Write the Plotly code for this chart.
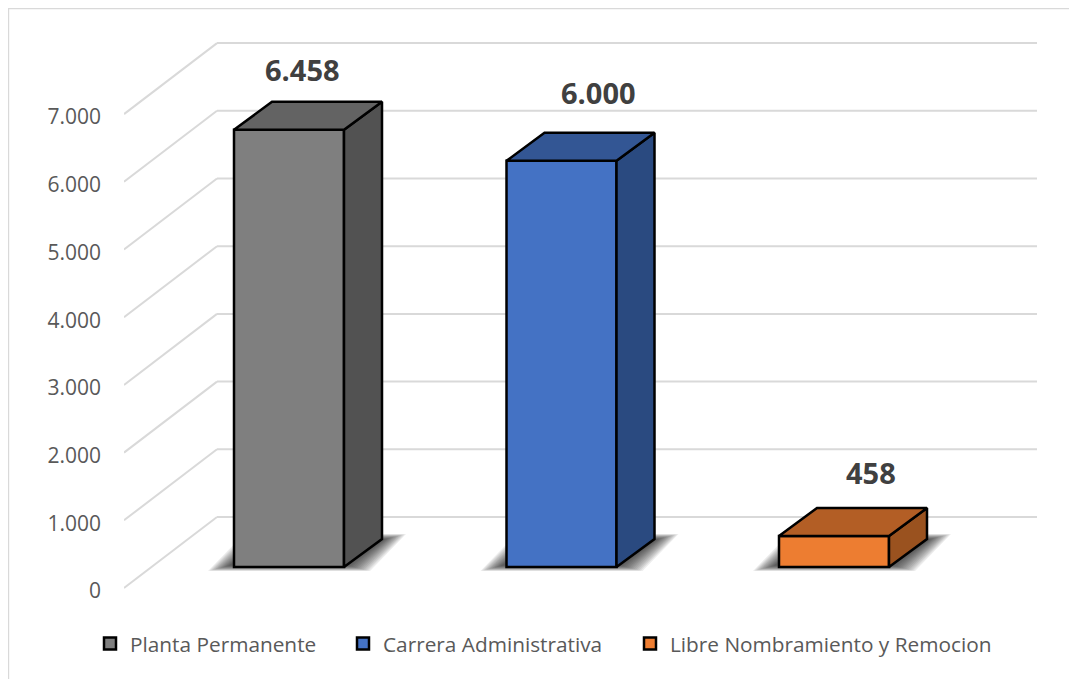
import plotly.graph_objects as go

categories = ["Planta Permanente", "Carrera Administrativa", "Libre Nombramiento y Remocion"]
values = [6458, 6000, 458]
tick_values = [0, 1000, 2000, 3000, 4000, 5000, 6000, 7000]
face_colors = ["#7f7f7f", "#4472c4", "#ed7d31"]
top_colors = ["#636363", "#335694", "#b35e25"]
side_colors = ["#525252", "#2a4a80", "#9a521f"]

# page geometry (figure sits at 8,8 because of the default body margin)
FIG_W, FIG_H = 1069, 671
L, R, T, B = 116, 40, 30, 88
PX_PER_UNIT_X = 272.5
PX_PER_VAL = 0.0677
X0_PAGE = 289.0


def dx(px):
    return px / PX_PER_UNIT_X


def dv(px):
    return px / PX_PER_VAL


x_min = (124 - X0_PAGE) / PX_PER_UNIT_X
x_max = (1037 - X0_PAGE) / PX_PER_UNIT_X
y_max = dv(591 - 38)
front = dv(3)  # wall lines start slightly above the tick label centre
wall_dx, wall_dv = dx(93), dv(71)
bar_dx, bar_dv = dx(38), dv(28)
bar_w = dx(110)
floor = dv(24)
GRID = "#d9d9d9"

shapes = []
for t in tick_values:
    shapes.append(dict(type="line", xref="x", yref="y", layer="below",
                       x0=x_min, y0=t + front, x1=x_min + wall_dx, y1=t + front + wall_dv,
                       line=dict(color=GRID, width=2)))
    shapes.append(dict(type="line", xref="x", yref="y", layer="below",
                       x0=x_min + wall_dx, y0=t + front + wall_dv, x1=x_max, y1=t + front + wall_dv,
                       line=dict(color=GRID, width=2)))

# soft floor shadows: stacked translucent parallelograms
for i in range(len(values)):
    for step in range(14):
        inset = step * 1.6
        xa = i - bar_w / 2 - dx(26) + dx(inset)
        xb = i + bar_w / 2 + dx(26) - dx(inset)
        ya = floor - dv(4) + dv(inset * 0.25)
        yb = floor + dv(33) - dv(inset * 0.25)
        off = dx(36)
        path = f"M {xa} {ya} L {xb} {ya} L {xb + off} {yb} L {xa + off} {yb} Z"
        shapes.append(dict(type="path", xref="x", yref="y", layer="below", path=path,
                           fillcolor="rgba(20,20,20,0.08)", line=dict(width=0)))


plot_w = FIG_W - L - R
plot_h = FIG_H - T - B


def xp(px):
    return (px - L) / plot_w


def yp(px):
    return 1 - (px - T) / plot_h


for (a, b, c, d) in [(0, 0, FIG_W, 0), (0, 0, 0, FIG_H)]:
    shapes.append(dict(type="line", xref="paper", yref="paper", layer="below",
                       x0=xp(a), y0=yp(b), x1=xp(c), y1=yp(d),
                       line=dict(color=GRID, width=2.4)))

legend_names = ["legend", "legend2", "legend3"]
legend_text_x = [130, 383, 670]

fig = go.Figure()
for i, (c, v) in enumerate(zip(categories, values)):
    fig.add_trace(go.Bar(x=[i], y=[v], base=[floor], width=bar_w, name=c, legend=legend_names[i],
                         marker=dict(color=face_colors[i], line=dict(color="#000000", width=2.5)),
                         hoverinfo="skip"))
for i, v in enumerate(values):
    l, r = i - bar_w / 2, i + bar_w / 2
    b, t = floor, floor + v
    fig.add_trace(go.Scatter(
        x=[r, r + bar_dx, r + bar_dx, r, r],
        y=[b, b + bar_dv, t + bar_dv, t, b],
        mode="lines", fill="toself", fillcolor=side_colors[i],
        line=dict(color="#000000", width=2.5), showlegend=False, hoverinfo="skip"))
    fig.add_trace(go.Scatter(
        x=[l, r, r + bar_dx, l + bar_dx, l],
        y=[t, t, t + bar_dv, t + bar_dv, t],
        mode="lines", fill="toself", fillcolor=top_colors[i],
        line=dict(color="#000000", width=2.5), showlegend=False, hoverinfo="skip"))

label_shift = [(13, 60), (37, 68), (37, 63)]
annotations = []
for i, v in enumerate(values):
    annotations.append(dict(x=i, y=floor + v, xref="x", yref="y",
                            text=f"<b>{v:,}</b>".replace(",", "."), showarrow=False,
                            xanchor="center", yanchor="middle",
                            xshift=label_shift[i][0], yshift=label_shift[i][1],
                            font=dict(family="Open Sans", size=29, color="#404040")))

layout_legends = {}
for name, tx in zip(legend_names, legend_text_x):
    layout_legends[name] = dict(
        orientation="h", xref="container", yref="container",
        x=(tx - 40 - 8) / FIG_W, y=1 - (644 - 8) / FIG_H,
        xanchor="left", yanchor="middle",
        font=dict(family="Open Sans", size=20.8, color="#595959"),
        bgcolor="rgba(0,0,0,0)", itemclick=False, itemdoubleclick=False)

fig.update_layout(
    width=FIG_W, height=FIG_H,
    margin=dict(l=L, r=R, t=T, b=B, pad=0),
    paper_bgcolor="#ffffff", plot_bgcolor="#ffffff",
    separators=",.",
    barmode="overlay",
    font=dict(family="Open Sans", color="#595959"),
    shapes=shapes, annotations=annotations,
    xaxis=dict(range=[x_min, x_max], visible=False, fixedrange=True),
    yaxis=dict(range=[0, y_max], tickmode="array", tickvals=tick_values, tickformat=",d",
               tickfont=dict(family="Open Sans", size=21, color="#595959"),
               showgrid=False, zeroline=False, showline=False, ticks="",
               ticklabelstandoff=22, fixedrange=True),
    showlegend=True,
    **layout_legends,
)
fig.write_html("out.html", config={"displayModeBar": False})
